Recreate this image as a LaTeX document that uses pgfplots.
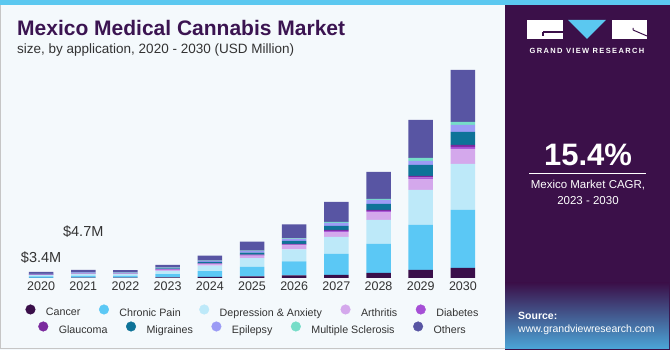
\documentclass[border=0pt]{standalone}
\usepackage{pgfplots}
\pgfplotsset{compat=1.18}
\usepackage{pgfplotstable}
\usepackage{fontspec}
\setmainfont{Liberation Sans}
\definecolor{cCancer}{HTML}{3A0F4A}
\definecolor{cCP}{HTML}{5BC8F5}
\definecolor{cDA}{HTML}{BDE9F9}
\definecolor{cAr}{HTML}{D4A8EC}
\definecolor{cDi}{HTML}{A64FD6}
\definecolor{cGl}{HTML}{7B2A9E}
\definecolor{cMi}{HTML}{0E7398}
\definecolor{cEp}{HTML}{9B9BF5}
\definecolor{cMS}{HTML}{76DDC8}
\definecolor{cOt}{HTML}{5855A3}
\definecolor{cBG}{HTML}{F4F9FC}
\definecolor{cStripe}{HTML}{5BC8F0}
\definecolor{cPanel}{HTML}{3B1049}
\definecolor{cTitle}{HTML}{3B1451}
\definecolor{cTxt}{HTML}{333333}
\pgfplotstableread{
x C CP DA Ar Di Gl Mi Ep MS Ot
0 0.2 1.3 1.3 0.4 0.15 0.15 0.3 0.3 0.1 1.8
1 0.3 1.8 1.7 0.5 0.2 0.2 0.4 0.4 0.1 2.4
2 0.3 1.8 1.7 0.5 0.2 0.2 0.4 0.3 0.1 2.3
3 0.5 3.3 3.3 1.0 0.4 0.4 0.8 0.5 0.2 2.8
4 1.0 5.8 5.6 1.5 0.4 0.4 1.3 1.0 0.3 5.0
5 1.5 9.5 8.8 2.5 0.6 0.5 2.0 1.5 0.5 9.0
6 2.5 14 12 4 0.8 0.7 3 2 0.5 14
7 3 21 17 5 1 1 4 3 1 20
8 5 29 24 8 1 1 6 4 1 27
9 8 45 35 11 1.5 1.5 11 4 3 38
10 10 58 46 15 2 2 13 7 3 52
}\data
\newcommand\LI[1]{\addlegendimage{legend image code/.code={\fill[#1] (0pt,3.4pt) circle (4.8pt);}}}
\begin{document}
\begin{tikzpicture}[x=1pt,y=1pt]
\useasboundingbox (0,0) rectangle (670,350);
\fill[cBG] (0,0) rectangle (505,345);
\draw[gray!45, line width=0.8pt] (0.5,1.5) -- (0.5,345) (0,1.5) -- (670,1.5);
\fill[cPanel] (505,0) rectangle (670,345);
\shade[top color=cPanel, bottom color=cPanel] (505,67) rectangle (670,90);
\shade[top color=cPanel, middle color={rgb,255:red,80;green,100;blue,170}, bottom color={rgb,255:red,75;green,165;blue,215}] (505,1.5) rectangle (669,67);
\fill[cStripe] (0,345) rectangle (670,350);
% logo
\fill[white] (527,311) rectangle (563,330);
\draw[cPanel, line width=1.2pt] (543,318) -- (563,318) (543,318) -- (543,314);
\fill[cStripe] (568,330) -- (606,330) -- (587,311) -- cycle;
\fill[white] (612,311) rectangle (647,330);
\draw[cPanel, line width=1.0pt] (633,320) -- (647,314) (633,320) -- (633,322);
\node[text=white, font=\fontsize{7.5}{9}\selectfont\bfseries\addfontfeature{LetterSpace=18}, inner sep=0] at (587,299) {GRAND VIEW RESEARCH};
\node[text=white, font=\fontsize{31}{34}\selectfont\bfseries, inner sep=0] at (588,195) {15.4\%};
\draw[white, line width=0.8pt] (529,177) -- (646,177);
\node[text=white, font=\fontsize{11.5}{13}\selectfont, inner sep=0] at (588,165) {Mexico Market CAGR,};
\node[text=white, font=\fontsize{11.5}{13}\selectfont, inner sep=0] at (588,149) {2023 - 2030};
\node[text=white, font=\fontsize{10.5}{12}\selectfont\bfseries, anchor=west, inner sep=0] at (518,34) {Source:};
\node[text=white, font=\fontsize{10.5}{12}\selectfont, anchor=west, inner sep=0] at (518,20) {www.grandviewresearch.com};
% titles
\node[text=cTitle, font=\fontsize{21}{24}\selectfont\bfseries, anchor=base west, inner sep=0] at (17,314.3) {Mexico Medical Cannabis Market};
\node[text=cTxt, font=\fontsize{13.5}{16}\selectfont, anchor=base west, inner sep=0] at (17,296.7) {size, by application, 2020 - 2030 (USD Million)};
\begin{axis}[
  at={(20pt,72pt)}, anchor=south west,
  width=464pt, height=220pt, scale only axis,
  xmin=-0.5, xmax=10.5, ymin=0, ymax=220,
  ybar stacked, bar width=24.5pt, bar shift=0pt,
  hide y axis, axis x line*=bottom, x axis line style={draw=none},
  xtick={0,...,10}, xticklabels={2020,2021,2022,2023,2024,2025,2026,2027,2028,2029,2030},
  major tick length=0pt,
  xticklabel style={font=\fontsize{12.5}{14}\selectfont, text=cTxt, yshift=-0.5pt},
  /pgf/number format/assume math mode=true,
  every axis plot/.append style={draw=none},
  clip=false,
]
\addplot[fill=cCancer] table[x=x,y=C]{\data};
\addplot[fill=cCP] table[x=x,y=CP]{\data};
\addplot[fill=cDA] table[x=x,y=DA]{\data};
\addplot[fill=cAr] table[x=x,y=Ar]{\data};
\addplot[fill=cDi] table[x=x,y=Di]{\data};
\addplot[fill=cGl] table[x=x,y=Gl]{\data};
\addplot[fill=cMi] table[x=x,y=Mi]{\data};
\addplot[fill=cEp] table[x=x,y=Ep]{\data};
\addplot[fill=cMS] table[x=x,y=MS]{\data};
\addplot[fill=cOt] table[x=x,y=Ot]{\data};
\node[text=cTxt, font=\fontsize{14.5}{16}\selectfont, inner sep=0] at (axis cs:0,20) {\$3.4M};
\node[text=cTxt, font=\fontsize{14.5}{16}\selectfont, inner sep=0] at (axis cs:1,46) {\$4.7M};
\end{axis}
\begin{axis}[at={(253pt,38pt)}, anchor=center, width=10pt, height=10pt, scale only axis, hide axis,
  xmin=0, xmax=1, ymin=0, ymax=1,
  legend style={draw=none, fill=none, at={(0.5,0.5)}, anchor=center, legend columns=5,
    font=\fontsize{10.7}{12}\selectfont, text=cTxt, inner sep=0pt,
    /tikz/every odd column/.append style={column sep=8.5pt},
    /tikz/every even column/.append style={column sep=16.5pt}}]
\LI{cCancer}\addlegendentry{Cancer}
\LI{cCP}\addlegendentry{Chronic Pain}
\LI{cDA}\addlegendentry{Depression \& Anxiety}
\LI{cAr}\addlegendentry{Arthritis}
\LI{cDi}\addlegendentry{Diabetes}
\end{axis}
\begin{axis}[at={(253pt,21pt)}, anchor=center, width=10pt, height=10pt, scale only axis, hide axis,
  xmin=0, xmax=1, ymin=0, ymax=1,
  legend style={draw=none, fill=none, at={(0.5,0.5)}, anchor=center, legend columns=5,
    font=\fontsize{10.7}{12}\selectfont, text=cTxt, inner sep=0pt,
    /tikz/every odd column/.append style={column sep=8.5pt},
    /tikz/every even column/.append style={column sep=16.5pt}}]
\LI{cGl}\addlegendentry{Glaucoma}
\LI{cMi}\addlegendentry{Migraines}
\LI{cEp}\addlegendentry{Epilepsy}
\LI{cMS}\addlegendentry{Multiple Sclerosis}
\LI{cOt}\addlegendentry{Others}
\end{axis}
\end{tikzpicture}
\end{document}
